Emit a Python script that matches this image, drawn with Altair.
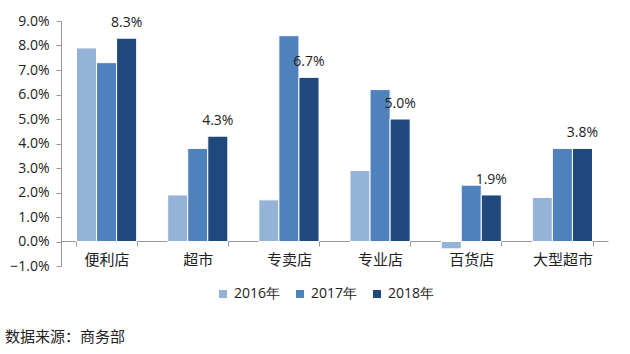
import altair as alt
import pandas as pd

categories = ["便利店", "超市", "专卖店", "专业店", "百货店", "大型超市"]
years = ["2016年", "2017年", "2018年"]
v2016 = [7.9, 1.9, 1.7, 2.9, -0.3, 1.8]
v2017 = [7.3, 3.8, 8.4, 6.2, 2.3, 3.8]
v2018 = [8.3, 4.3, 6.7, 5.0, 1.9, 3.8]
colors = ["#95B3D7", "#4F81BD", "#1F497D"]

rows = []
for i, c in enumerate(categories):
    for y, vals in zip(years, [v2016, v2017, v2018]):
        rows.append({"cat": c, "year": y, "value": vals[i],
                     "label": f"{vals[i]:.1f}%"})
df = pd.DataFrame(rows)

num_font = "Open Sans"
cjk_font = "Noto Sans CJK SC"

x = alt.X("cat:N", sort=categories, title=None,
          scale=alt.Scale(paddingInner=0.34, paddingOuter=0.17),
          axis=alt.Axis(offset=-25, tickBand="extent", labelAngle=0,
                        domainColor="#999999", tickColor="#999999", tickSize=5,
                        labelFont=cjk_font, labelFontSize=15, labelColor="#222222",
                        labelPadding=6))
y = alt.Y("value:Q", title=None,
          scale=alt.Scale(domain=[-1, 9], nice=False),
          axis=alt.Axis(values=list(range(-1, 10)), grid=False, labelOverlap=False,
                        labelExpr="format(datum.value, '.1f') + '%'",
                        domainColor="#999999", tickColor="#999999", tickSize=5,
                        labelFont=num_font, labelFontSize=14, labelColor="#222222",
                        labelPadding=7))
xo = alt.XOffset("year:N", sort=years)

bars = alt.Chart(df).mark_bar(stroke="white", strokeWidth=1).encode(
    x=x, y=y, xOffset=xo,
    color=alt.Color("year:N", sort=years,
                    scale=alt.Scale(domain=years, range=colors),
                    legend=alt.Legend(title=None, orient="none", direction="horizontal",
                                      legendX=155, legendY=266,
                                      symbolType="square", symbolSize=64,
                                      symbolStrokeWidth=0,
                                      labelFont=num_font, labelFontSize=14,
                                      labelColor="#222222", columnPadding=12,
                                      labelOffset=4)),
)

labels = alt.Chart(df[df["year"] == "2018年"]).mark_text(
    baseline="bottom", dy=-8, font=num_font, fontSize=14, color="#222222"
).encode(
    x=x, y=y, xOffset=xo,
    text="label:N",
)

chart = alt.layer(bars, labels).properties(
    width=547, height=245,
    autosize=alt.AutoSizeParams(type="none"),
    padding={"left": 61, "top": 21, "right": 22, "bottom": 88},
    title=alt.Title("数据来源：商务部", orient="bottom", anchor="start", frame="group",
                    dx=-56, offset=29, font=cjk_font, fontSize=15, fontWeight="normal",
                    color="#222222"),
).configure_view(stroke=None).configure_axisY(labelOverlap=False)

chart.save("out.html", embed_options={"renderer": "svg", "actions": False})
